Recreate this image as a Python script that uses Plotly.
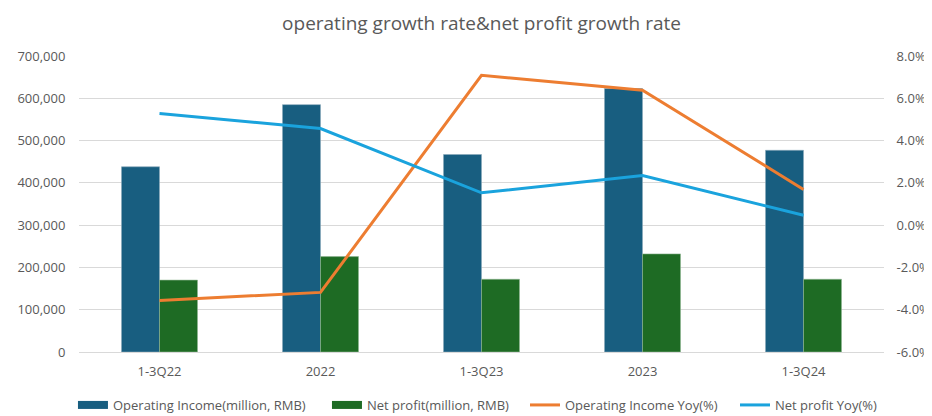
import plotly.graph_objects as go

categories = ["1-3Q22", "2022", "1-3Q23", "2023", "1-3Q24"]
operating_income = [438000, 585000, 467000, 623000, 477000]
net_profit = [170000, 225600, 172000, 232000, 172000]
operating_yoy = [-3.56, -3.18, 7.09, 6.38, 1.69]
net_profit_yoy = [5.28, 4.57, 1.53, 2.35, 0.47]

left_ticks = [0, 100000, 200000, 300000, 400000, 500000, 600000, 700000]
right_ticks = [-6, -4, -2, 0, 2, 4, 6, 8]

font_family = "Open Sans, Lato, sans-serif"
grey = "#595959"
clear = "rgba(0,0,0,0)"
c_inc, c_np, c_oy, c_ny = "#185e80", "#1e6b24", "#ed7d31", "#1aa3dd"

fig = go.Figure()
fig.add_trace(go.Bar(x=categories, y=operating_income, name="Operating Income(million, RMB)",
                     showlegend=False,
                     marker=dict(color=c_inc, line=dict(color="#8aaabb", width=0.6))))
fig.add_trace(go.Bar(x=categories, y=net_profit, name="Net profit(million, RMB)",
                     showlegend=False,
                     marker=dict(color=c_np, line=dict(color="#8fb592", width=0.6))))
fig.add_trace(go.Scatter(x=categories, y=operating_yoy, name="Operating Income Yoy(%)", yaxis="y2",
                         mode="lines", line=dict(color=c_oy, width=3), legend="legend3"))
fig.add_trace(go.Scatter(x=categories, y=net_profit_yoy, name="Net profit Yoy(%)", yaxis="y2",
                         mode="lines", line=dict(color=c_ny, width=3), legend="legend4"))
# legend swatches for the bar series (wide rectangles as in the reference)
fig.add_trace(go.Scatter(x=[None], y=[None], mode="lines", name="Operating Income(million, RMB)",
                         line=dict(color=c_inc, width=8), legend="legend", hoverinfo="skip"))
fig.add_trace(go.Scatter(x=[None], y=[None], mode="lines", name="Net profit(million, RMB)",
                         line=dict(color=c_np, width=8), legend="legend2", hoverinfo="skip"))

leg_common = dict(orientation="h", xref="container", xanchor="left", yref="container",
                  y=0.027, yanchor="middle", font=dict(size=13, color=grey),
                  bgcolor=clear)

fig.update_layout(
    width=924, height=408,
    margin=dict(l=71, r=48, t=48, b=64, autoexpand=False),
    paper_bgcolor="white", plot_bgcolor="white",
    font=dict(family=font_family, color=grey, size=13),
    title=dict(text="operating growth rate&net profit growth rate", x=0.5, xanchor="center",
               xref="paper", y=0.962, yref="container", yanchor="middle",
               font=dict(size=19, color=grey)),
    barmode="group", bargap=0.528, bargroupgap=0,
    xaxis=dict(showgrid=False, showline=True, linecolor="#d9d9d9", ticks="outside",
               ticklen=7, tickcolor=clear, tickfont=dict(size=13, color=grey)),
    yaxis=dict(range=[0, 700000], tickvals=left_ticks, tickformat=",", showgrid=True,
               gridcolor="#d9d9d9", gridwidth=1, zeroline=False, ticks="outside", ticklen=10,
               tickcolor=clear, tickfont=dict(size=13, color=grey)),
    yaxis2=dict(range=[-6, 8], tickvals=right_ticks, ticktext=[f"{v:.1f}%" for v in right_ticks],
                overlaying="y", side="right", showgrid=False, zeroline=False,
                ticks="outside", ticklen=9, tickcolor=clear,
                tickfont=dict(size=13, color=grey)),
    legend=dict(x=0.0703, **leg_common),
    legend2=dict(x=0.3452, **leg_common),
    legend3=dict(x=0.5595, **leg_common),
    legend4=dict(x=0.7868, **leg_common),
    showlegend=True,
)

fig.write_html("out.html")
